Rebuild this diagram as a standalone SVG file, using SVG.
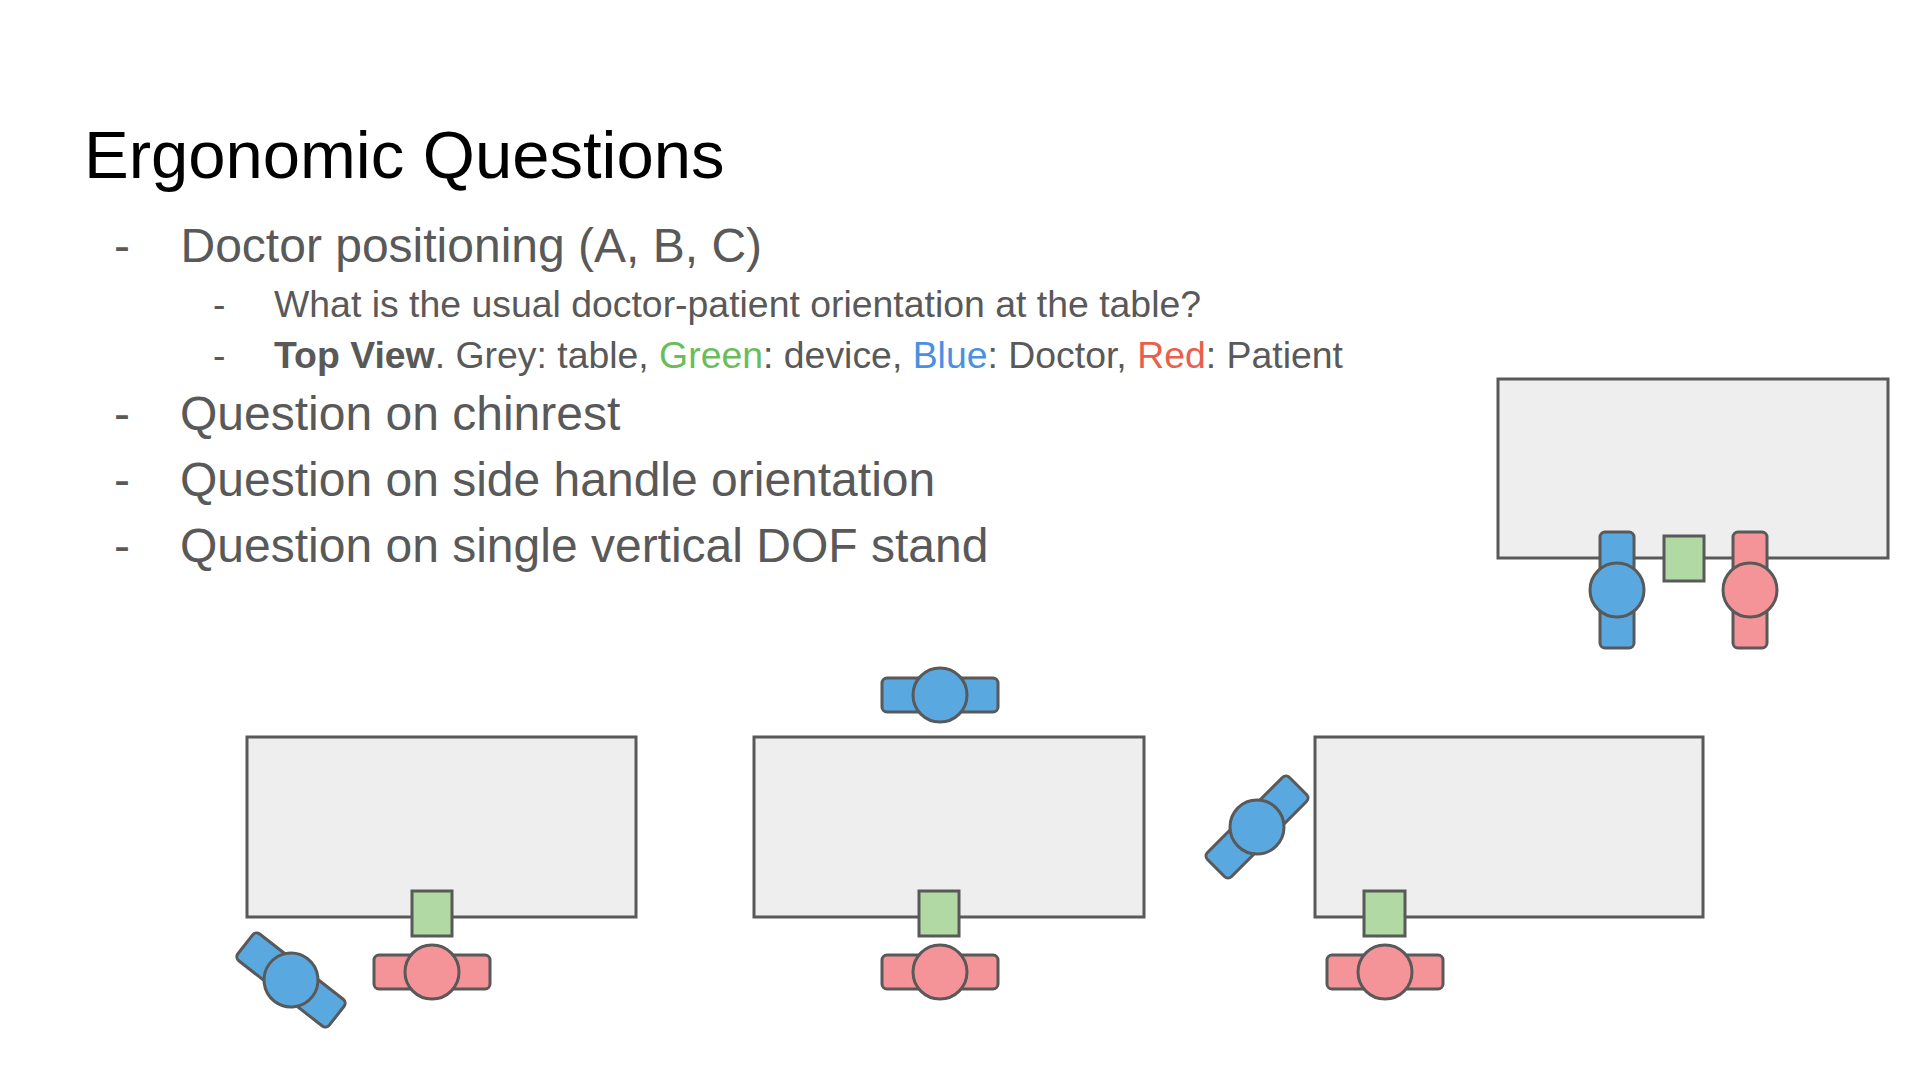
<svg xmlns="http://www.w3.org/2000/svg" width="1920" height="1080" viewBox="0 0 1920 1080">
<style>
text{font-family:"Liberation Sans",Arial,sans-serif;}
.title{font-size:67px;fill:#000;}
.l1{font-size:48px;fill:#595959;}
.l2{font-size:37.4px;fill:#595959;}
.table{fill:#eeeeee;stroke:#595959;stroke-width:3;}
.dev{fill:#b0d9a3;stroke:#595959;stroke-width:3;}
.doc{fill:#5aa8e0;stroke:#595959;stroke-width:3;}
.pat{fill:#f59498;stroke:#595959;stroke-width:3;}
</style>
<defs>
<g id="docH"><rect class="doc" x="-58" y="-17" width="116" height="34" rx="5"/><circle class="doc" cx="0" cy="0" r="27"/></g>
<g id="patH"><rect class="pat" x="-58" y="-17" width="116" height="34" rx="5"/><circle class="pat" cx="0" cy="0" r="27"/></g>
</defs>
<rect width="1920" height="1080" fill="#ffffff"/>
<g id="text">
<text class="title" x="84" y="178">Ergonomic Questions</text>
<text class="l1" x="114" y="262">-</text>
<text class="l1" x="180.5" y="262">Doctor positioning (A, B, C)</text>
<text class="l2" x="213" y="317">-</text>
<text class="l2" x="274" y="317">What is the usual doctor-patient orientation at the table?</text>
<text class="l2" x="213" y="368">-</text>
<text class="l2" x="274" y="368"><tspan font-weight="bold">Top View</tspan>. Grey: table, <tspan fill="#6abd5b">Green</tspan>: device, <tspan fill="#4a90e2">Blue</tspan>: Doctor, <tspan fill="#e8604c">Red</tspan>: Patient</text>
<text class="l1" x="114" y="430">-</text>
<text class="l1" x="180" y="430">Question on chinrest</text>
<text class="l1" x="114" y="496">-</text>
<text class="l1" x="180" y="496">Question on side handle orientation</text>
<text class="l1" x="114" y="562">-</text>
<text class="l1" x="180" y="562">Question on single vertical DOF stand</text>
</g>
<g id="layout-top">
<rect class="table" x="1498" y="379" width="390" height="179"/>
<g id="top-doctor"><rect class="doc" x="1600" y="532" width="34" height="116" rx="5"/><circle class="doc" cx="1617" cy="590" r="27"/></g>
<rect id="top-device" class="dev" x="1664" y="536" width="40" height="45"/>
<g id="top-patient"><rect class="pat" x="1733" y="532" width="34" height="116" rx="5"/><circle class="pat" cx="1750" cy="590" r="27"/></g>
</g>
<g id="layout-a">
<rect class="table" x="247" y="737" width="389" height="180"/>
<rect id="a-device" class="dev" x="412" y="891" width="40" height="45"/>
<use id="a-patient" href="#patH" transform="translate(432,972)"/>
<use id="a-doctor" href="#docH" transform="translate(291,980) rotate(38)"/>
</g>
<g id="layout-b">
<rect class="table" x="754" y="737" width="390" height="180"/>
<rect id="b-device" class="dev" x="919" y="891" width="40" height="45"/>
<use id="b-patient" href="#patH" transform="translate(940,972)"/>
<use id="b-doctor" href="#docH" transform="translate(940,695)"/>
</g>
<g id="layout-c">
<rect class="table" x="1315" y="737" width="388" height="180"/>
<rect id="c-device" class="dev" x="1364" y="891" width="41" height="45"/>
<use id="c-patient" href="#patH" transform="translate(1385,972)"/>
<use id="c-doctor" href="#docH" transform="translate(1257,827) rotate(-45)"/>
</g>
<g id="connectors"></g>
</svg>
